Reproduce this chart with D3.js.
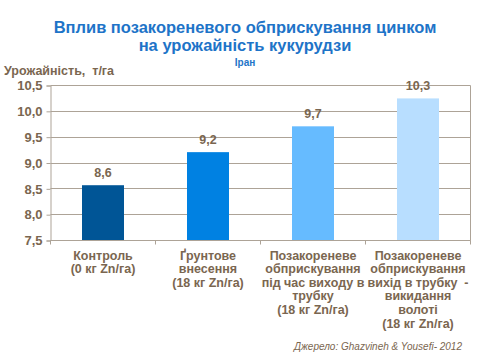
<!DOCTYPE html>
<html>
<head>
<meta charset="utf-8">
<script src="https://cdn.jsdelivr.net/npm/d3@7"></script>
<style>
  body { margin: 0; background: #fff; }
  text { font-family: "Liberation Sans", Arial, sans-serif; white-space: pre; }
</style>
</head>
<body>
<svg id="chart" width="480" height="360"></svg>
<script>
const categories = [
  ['Контроль', '(0 кг Zn/га)'],
  ['Ґрунтове', 'внесення', '(18 кг Zn/га)'],
  ['Позакореневе', 'обприскування', 'під час виходу в', 'трубку', '(18 кг Zn/га)'],
  ['Позакореневе', 'обприскування', 'вихід в трубку  -', 'викидання', 'волоті', '(18 кг Zn/га)']
];
const values = [8.57, 9.21, 9.71, 10.25];
const valueLabels = ['8,6', '9,2', '9,7', '10,3'];
const yTicks = [7.5, 8.0, 8.5, 9.0, 9.5, 10.0, 10.5];
const titleLines = ['Вплив позакореневого обприскування цинком', 'на урожайність кукурудзи'];
const barColors = ['#005596', '#0081E2', '#66BBFF', '#B8DEFF'];

const svg = d3.select('#chart');
const textColor = '#7A6650';
const gridColor = '#ADA397';
const plot = { left: 50.5, right: 470.5, top: 85.5, bottom: 240.5 };

// titles
svg.append('g').selectAll('text').data(titleLines).join('text')
  .attr('x', 245).attr('y', (d, i) => 32.5 + i * 18.5)
  .attr('text-anchor', 'middle')
  .attr('fill', '#1E74C8').attr('font-weight', 'bold').attr('font-size', 16.5)
  .text(d => d);
svg.append('text').attr('x', 245).attr('y', 66).attr('text-anchor', 'middle')
  .attr('fill', '#1E74C8').attr('font-weight', 'bold').attr('font-size', 10).text('Іран');
svg.append('text').attr('x', 4).attr('y', 75).attr('fill', textColor)
  .attr('font-weight', 'bold').attr('font-size', 12.5).text('Урожайність,  т/га');

const x = d3.scaleBand().domain(d3.range(categories.length)).range([plot.left, plot.right]).padding(0);
const y = d3.scaleLinear().domain([7.5, 10.5]).range([plot.bottom, plot.top]);

// grid
svg.append('g').selectAll('line').data(yTicks).join('line')
  .attr('x1', plot.left).attr('x2', plot.right)
  .attr('y1', d => Math.round(y(d) - 0.5) + 0.5).attr('y2', d => Math.round(y(d) - 0.5) + 0.5)
  .attr('stroke', gridColor);
svg.append('line').attr('x1', plot.right).attr('x2', plot.right)
  .attr('y1', plot.top).attr('y2', plot.bottom).attr('stroke', gridColor);

// bars
const barW = 42;
svg.append('g').selectAll('rect').data(values).join('rect')
  .attr('x', (d, i) => x(i) + x.bandwidth() / 2 - barW / 2)
  .attr('y', d => y(d))
  .attr('width', barW)
  .attr('height', d => y(7.5) - y(d))
  .attr('fill', (d, i) => barColors[i]);

svg.append('g').selectAll('text').data(values).join('text')
  .attr('x', (d, i) => x(i) + x.bandwidth() / 2)
  .attr('y', d => y(d) - 8)
  .attr('text-anchor', 'middle').attr('fill', textColor)
  .attr('font-weight', 'bold').attr('font-size', 12.5)
  .text((d, i) => valueLabels[i]);

// y axis
const yAxis = svg.append('g').attr('transform', `translate(${plot.left},0)`)
  .call(d3.axisLeft(y).tickValues(yTicks).tickSize(4).tickPadding(4)
    .tickFormat(d => d3.format('.1f')(d).replace('.', ',')));
yAxis.select('.domain').attr('stroke', gridColor);
yAxis.selectAll('.tick line').attr('stroke', gridColor);
yAxis.selectAll('.tick text').attr('fill', textColor).attr('font-weight', 'bold')
  .attr('font-size', 13).attr('font-family', '"Liberation Sans", Arial, sans-serif');

// x axis
const xAxis = svg.append('g').attr('transform', `translate(0,${plot.bottom})`);
xAxis.append('line').attr('x1', plot.left).attr('x2', plot.right).attr('stroke', gridColor);
xAxis.selectAll('line.t').data(d3.range(categories.length + 1)).join('line').attr('class', 't')
  .attr('x1', i => (i < categories.length ? x(i) : plot.right))
  .attr('x2', i => (i < categories.length ? x(i) : plot.right))
  .attr('y1', 0).attr('y2', 4).attr('stroke', gridColor);

const catText = svg.append('g').selectAll('text').data(categories).join('text')
  .attr('text-anchor', 'middle').attr('fill', textColor)
  .attr('font-weight', 'bold').attr('font-size', 12.5);
catText.each(function (lines, i) {
  const t = d3.select(this);
  lines.forEach((s, j) => {
    t.append('tspan').attr('x', x(i) + x.bandwidth() / 2).attr('y', 259.5 + j * 13.6).text(s);
  });
});

svg.append('text').attr('x', 462).attr('y', 350).attr('text-anchor', 'end')
  .attr('fill', textColor).attr('font-style', 'italic').attr('font-size', 10)
  .text('Джерело: Ghazvineh & Yousefi- 2012');
</script>
</body>
</html>
